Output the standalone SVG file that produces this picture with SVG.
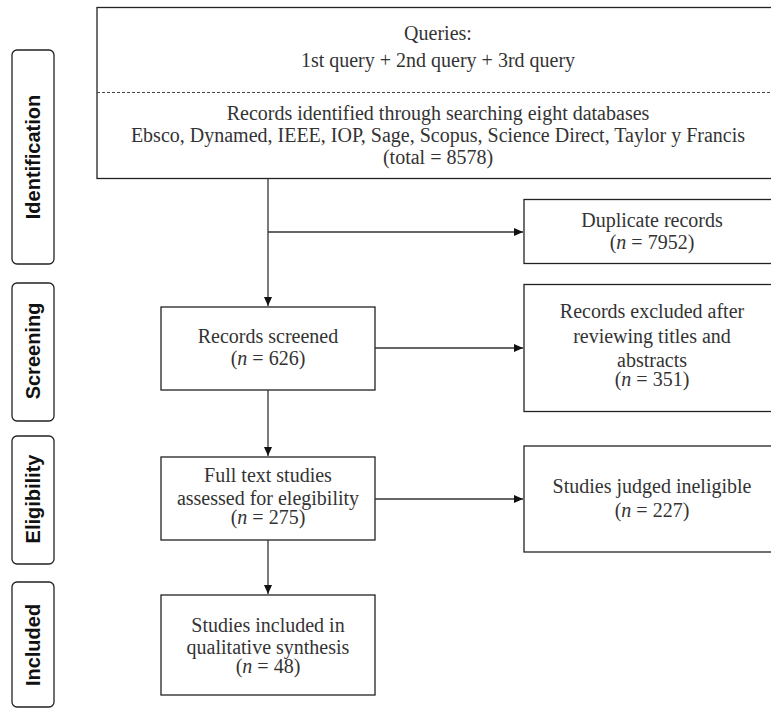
<svg xmlns="http://www.w3.org/2000/svg" width="771" height="708" viewBox="0 0 771 708">
<style>
.box{fill:#fff;stroke:#222;stroke-width:1.3}
.lab{fill:#fff;stroke:#222;stroke-width:1.3}
.t{font-family:'Liberation Serif','Times New Roman',serif;font-size:20px;fill:#333;text-anchor:middle}
.s{font-family:'Liberation Sans',Arial,sans-serif;font-size:20px;font-weight:bold;fill:#111;text-anchor:middle}
.c{fill:none;stroke:#333;stroke-width:1.3}
</style>
<defs>
<marker id="ah" markerWidth="10" markerHeight="8" refX="9" refY="4" orient="auto" markerUnits="userSpaceOnUse">
<path d="M0,0 L9,4 L0,8 Z" fill="#111"/>
</marker>
</defs>
<g id="stage-identification">
<rect class="lab" x="12" y="50" width="42" height="214" rx="5"/>
<text class="s" transform="translate(40,157) rotate(-90)">Identification</text>
</g>
<g id="stage-screening">
<rect class="lab" x="12" y="283" width="42" height="138" rx="5"/>
<text class="s" transform="translate(40,351) rotate(-90)">Screening</text>
</g>
<g id="stage-eligibility">
<rect class="lab" x="12" y="436" width="42" height="128" rx="5"/>
<text class="s" transform="translate(40,499) rotate(-90)">Eligibility</text>
</g>
<g id="stage-included">
<rect class="lab" x="12" y="582" width="42" height="125" rx="5"/>
<text class="s" transform="translate(40,645) rotate(-90)">Included</text>
</g>
<g id="identified">
<rect class="box" x="97" y="7.5" width="682" height="171"/>
<line x1="97" y1="92.5" x2="779" y2="92.5" stroke="#444" stroke-width="1" stroke-dasharray="3,2"/>
<text class="t" x="438" y="40">Queries:</text>
<text class="t" x="438" y="67">1st query + 2nd query + 3rd query</text>
<text class="t" x="438" y="120">Records identified through searching eight databases</text>
<text class="t" x="438" y="142">Ebsco, Dynamed, IEEE, IOP, Sage, Scopus, Science Direct, Taylor y Francis</text>
<text class="t" x="438" y="164">(total = 8578)</text>
</g>
<g id="duplicates">
<rect class="box" x="524" y="199.5" width="256" height="64"/>
<text class="t" x="652" y="227">Duplicate records</text>
<text class="t" x="652" y="249">(<tspan font-style="italic">n</tspan> = 7952)</text>
</g>
<g id="screened">
<rect class="box" x="161" y="307" width="214" height="83"/>
<text class="t" x="268" y="343">Records screened</text>
<text class="t" x="268" y="365">(<tspan font-style="italic">n</tspan> = 626)</text>
</g>
<g id="excluded">
<rect class="box" x="524" y="284.5" width="256" height="127"/>
<text class="t" x="652" y="318">Records excluded after</text>
<text class="t" x="652" y="343">reviewing titles and</text>
<text class="t" x="652" y="367">abstracts</text>
<text class="t" x="652" y="386">(<tspan font-style="italic">n</tspan> = 351)</text>
</g>
<g id="fulltext">
<rect class="box" x="161" y="457" width="214" height="83"/>
<text class="t" x="268" y="482">Full text studies</text>
<text class="t" x="268" y="505">assessed for elegibility</text>
<text class="t" x="268" y="524">(<tspan font-style="italic">n</tspan> = 275)</text>
</g>
<g id="ineligible">
<rect class="box" x="524" y="446" width="256" height="106"/>
<text class="t" x="652" y="493">Studies judged ineligible</text>
<text class="t" x="652" y="517">(<tspan font-style="italic">n</tspan> = 227)</text>
</g>
<g id="included">
<rect class="box" x="161" y="595" width="214" height="100"/>
<text class="t" x="268" y="632">Studies included in</text>
<text class="t" x="268" y="654">qualitative synthesis</text>
<text class="t" x="268" y="673">(<tspan font-style="italic">n</tspan> = 48)</text>
</g>
<g id="connectors">
<line class="c" x1="268" y1="178.5" x2="268" y2="306" marker-end="url(#ah)"/>
<line class="c" x1="268" y1="232" x2="523" y2="232" marker-end="url(#ah)"/>
<line class="c" x1="375" y1="348" x2="523" y2="348" marker-end="url(#ah)"/>
<line class="c" x1="268" y1="390" x2="268" y2="456" marker-end="url(#ah)"/>
<line class="c" x1="375" y1="499" x2="523" y2="499" marker-end="url(#ah)"/>
<line class="c" x1="268" y1="540" x2="268" y2="594" marker-end="url(#ah)"/>
</g>
</svg>
